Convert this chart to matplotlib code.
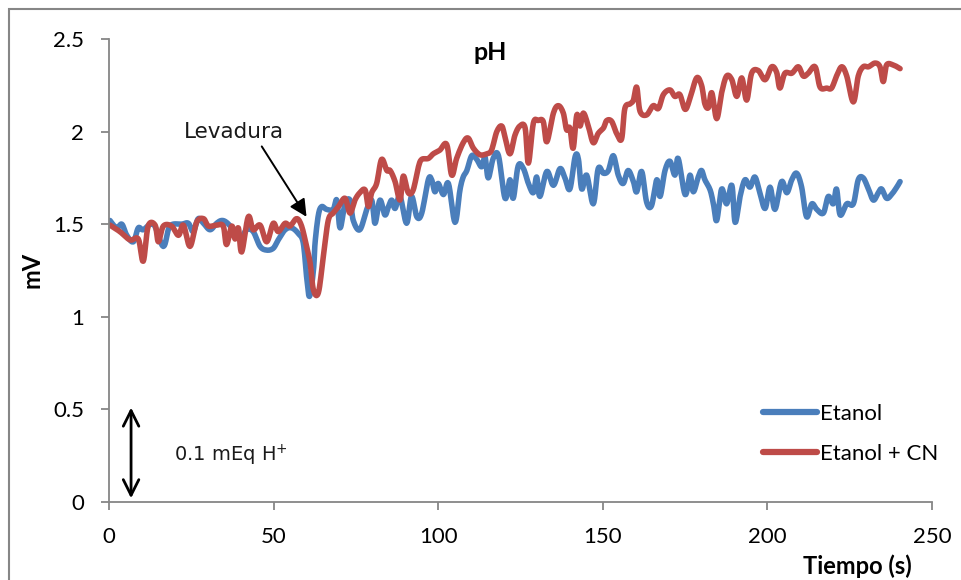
import numpy as np
import matplotlib
matplotlib.use("Agg")
import matplotlib.pyplot as plt
from matplotlib.patches import Rectangle

# --- data (time in s, signal in mV) ---
etanol_t = [0.3, 2.3, 3.9, 5.4, 7.4, 8.9, 10.4, 13.5, 16.5, 18.5, 22.1, 24.1, 25.6,
            27.1, 28.7, 30.7, 32.7, 34.2, 35.7, 37.8, 39.8, 41.8, 43.8, 45.9, 47.9,
            49.9, 51.4, 53.5, 55.5, 57.5, 59.0, 60.0, 60.9, 62.1, 62.6, 63.6, 64.6,
            66.1, 68.1, 69.2, 70.2, 71.7, 73.2, 74.2, 76.2, 78.3, 79.8, 80.8, 82.3,
            83.8, 84.9, 85.9, 86.9, 88.4, 90.4, 91.9, 93.5, 95.0, 97.0, 98.0, 99.0,
            100.0, 101.6, 103.1, 105.1, 106.6, 107.6, 108.7, 110.2, 111.7, 113.2,
            114.2, 115.2, 116.7, 118.3, 120.3, 121.8, 122.8, 124.3, 125.9, 127.4,
            128.9, 129.9, 130.9, 133.0, 135.0, 137.0, 138.5, 140.0, 141.6, 142.6,
            143.6, 145.1, 147.1, 148.6, 150.2, 151.7, 153.2, 154.7, 156.2, 157.7,
            159.3, 160.3, 161.8, 163.3, 164.8, 166.4, 167.4, 168.9, 170.4, 171.9,
            172.9, 175.0, 176.5, 177.5, 179.0, 180.0, 181.0, 182.6, 183.6, 184.6,
            186.1, 187.6, 189.2, 190.2, 191.7, 193.2, 194.7, 196.2, 197.7, 199.3,
            200.8, 202.3, 204.3, 205.9, 207.4, 208.9, 210.4, 211.9, 213.5, 215.0,
            217.0, 218.5, 220.0, 221.0, 222.1, 224.1, 226.1, 227.6, 229.1, 230.7,
            232.2, 233.7, 234.7, 236.2, 237.7, 239.3, 240.3]
etanol_v = [1.52, 1.48, 1.50, 1.44, 1.405, 1.48, 1.47, 1.50, 1.38, 1.49, 1.50, 1.505, 1.46,
            1.53, 1.505, 1.47, 1.505, 1.52, 1.51, 1.47, 1.42, 1.47, 1.46, 1.38, 1.36,
            1.37, 1.415, 1.47, 1.48, 1.45, 1.40, 1.22, 1.11, 1.25, 1.40, 1.55, 1.595,
            1.58, 1.58, 1.63, 1.48, 1.61, 1.63, 1.52, 1.47, 1.58, 1.63, 1.505, 1.63,
            1.55, 1.595, 1.63, 1.585, 1.65, 1.505, 1.65, 1.54, 1.56, 1.74, 1.74, 1.675,
            1.72, 1.66, 1.72, 1.51, 1.685, 1.755, 1.79, 1.87, 1.85, 1.81,
            1.865, 1.75, 1.855, 1.87, 1.64, 1.74, 1.64, 1.815, 1.80, 1.72,
            1.67, 1.755, 1.65, 1.785, 1.71, 1.80, 1.75, 1.69, 1.865, 1.85,
            1.69, 1.765, 1.61, 1.80, 1.775, 1.79, 1.87, 1.765, 1.72, 1.79,
            1.73, 1.675, 1.785, 1.62, 1.60, 1.74, 1.65, 1.79, 1.84, 1.765,
            1.855, 1.66, 1.765, 1.675, 1.755, 1.79, 1.74, 1.685, 1.61, 1.52,
            1.69, 1.61, 1.71, 1.51, 1.65, 1.74, 1.70, 1.755, 1.67, 1.585,
            1.70, 1.58, 1.73, 1.67, 1.74, 1.775, 1.70, 1.54, 1.61, 1.58,
            1.56, 1.65, 1.61, 1.69, 1.55, 1.61, 1.61, 1.74, 1.75, 1.69,
            1.63, 1.67, 1.69, 1.64, 1.66, 1.70, 1.73]

cn_t = [0.3, 3.3, 6.4, 8.9, 10.4, 11.9, 14.0, 15.0, 16.5, 19.0, 21.1, 22.6, 24.6,
        26.6, 28.7, 30.2, 32.7, 34.7, 35.7, 37.3, 38.3, 39.3, 40.3, 42.3, 43.8,
        45.9, 47.9, 49.9, 51.4, 53.5, 55.0, 57.0, 58.5, 60.0, 61.1, 62.1, 63.6,
        65.1, 66.6, 68.1, 69.7, 71.7, 73.2, 74.7, 76.2, 77.8, 78.8, 79.8, 81.3,
        82.8, 84.4, 85.4, 86.9, 88.4, 89.4, 90.9, 92.4, 94.0, 95.0, 97.0, 98.5,
        100.5, 102.6, 104.1, 105.6, 107.6, 109.1, 110.7, 112.7, 114.7, 116.2,
        117.8, 119.3, 120.3, 121.8, 123.3, 124.8, 126.4, 127.4, 128.9, 130.4,
        131.9, 133.0, 135.0, 136.5, 138.0, 139.0, 140.0, 141.0, 142.1, 143.1,
        144.1, 145.6, 147.1, 148.6, 150.2, 151.2, 152.7, 154.2, 155.7, 156.7,
        158.3, 159.3, 160.3, 161.3, 163.3, 165.3, 166.9, 168.4, 170.4, 171.9,
        173.4, 175.0, 176.5, 178.5, 180.0, 181.0, 182.1, 183.1, 184.6, 186.1,
        187.6, 189.2, 190.7, 192.2, 193.7, 195.2, 197.2, 199.3, 201.3, 202.8,
        203.8, 205.3, 207.4, 209.4, 210.9, 212.4, 214.5, 216.0, 218.0, 219.5,
        221.0, 222.6, 224.1, 226.1, 227.6, 229.1, 230.7, 232.7, 234.2, 235.2,
        236.2, 238.2, 240.3]
cn_v = [1.495, 1.46, 1.415, 1.42, 1.30, 1.49, 1.495, 1.405, 1.49, 1.49, 1.44, 1.495, 1.38,
        1.51, 1.53, 1.49, 1.495, 1.49, 1.39, 1.49, 1.42, 1.48, 1.35, 1.54, 1.47,
        1.495, 1.405, 1.505, 1.46, 1.505, 1.49, 1.53, 1.49, 1.38, 1.29, 1.145, 1.13,
        1.325, 1.52, 1.56, 1.595, 1.64, 1.56, 1.63, 1.67, 1.685, 1.595, 1.67, 1.72,
        1.85, 1.79, 1.79, 1.73, 1.63, 1.76, 1.67, 1.685, 1.81, 1.85, 1.855, 1.88,
        1.90, 1.93, 1.765, 1.855, 1.94, 1.965, 1.91, 1.875, 1.88, 1.90,
        2.00, 2.03, 1.97, 1.88, 1.98, 2.03, 2.02, 1.83, 2.045, 2.06,
        2.055, 1.945, 2.10, 2.14, 2.10, 2.01, 2.02, 1.91, 2.09, 2.03,
        2.10, 2.03, 1.94, 1.99, 2.02, 2.06, 2.055, 1.99, 1.96, 2.125,
        2.15, 2.17, 2.24, 2.11, 2.09, 2.14, 2.125, 2.20, 2.225, 2.19,
        2.20, 2.12, 2.18, 2.29, 2.25, 2.15, 2.13, 2.21, 2.07, 2.21,
        2.30, 2.28, 2.19, 2.29, 2.17, 2.315, 2.33, 2.28, 2.35, 2.32,
        2.235, 2.315, 2.315, 2.35, 2.30, 2.315, 2.35, 2.24, 2.235, 2.235,
        2.30, 2.35, 2.30, 2.16, 2.30, 2.35, 2.35, 2.37, 2.35, 2.27,
        2.36, 2.36, 2.34]

series_labels = ["Etanol", "Etanol + CN"]
series_colors = ["#4A7EBB", "#BE4B48"]
xticks = [0, 50, 100, 150, 200, 250]
yticks = [0, 0.5, 1, 1.5, 2, 2.5]
ytick_labels = ["0", "0.5", "1", "1.5", "2", "2.5"]


def smooth(t, v, n=8):
    # Catmull-Rom pass through the points, like a spreadsheet "smoothed line"
    t = np.asarray(t, float); v = np.asarray(v, float)
    pt = np.concatenate([[t[0]], t, [t[-1]]])
    pv = np.concatenate([[v[0]], v, [v[-1]]])
    s = np.linspace(0, 1, n, endpoint=False)
    xs, ys = [], []
    for i in range(1, len(pt) - 2):
        for arr, out in ((pt, xs), (pv, ys)):
            p0, p1, p2, p3 = arr[i - 1], arr[i], arr[i + 1], arr[i + 2]
            out.append(0.5 * (2 * p1 + (-p0 + p2) * s
                              + (2 * p0 - 5 * p1 + 4 * p2 - p3) * s ** 2
                              + (-p0 + 3 * p1 - 3 * p2 + p3) * s ** 3))
    xs.append([t[-1]]); ys.append([v[-1]])
    return np.concatenate(xs), np.concatenate(ys)


W, H = 961, 580
fig = plt.figure(figsize=(W / 100, H / 100), dpi=100)
ax = fig.add_axes([109 / W, 1 - 502 / H, (932 - 109) / W, (502 - 39) / H])

for t, v, lab, col in zip([etanol_t, cn_t], [etanol_v, cn_v], series_labels, series_colors):
    sx, sy = smooth(t, v)
    ax.plot(sx, sy, color=col, lw=4.0, label=lab, solid_joinstyle="round",
            solid_capstyle="round")

ax.set_xlim(0, 250)
ax.set_ylim(0, 2.5)
ax.set_xticks(xticks)
ax.set_yticks(yticks)
ax.set_yticklabels(ytick_labels)
grey = "#868686"
for side in ("top", "right"):
    ax.spines[side].set_visible(False)
for side in ("left", "bottom"):
    ax.spines[side].set_color(grey)
    ax.spines[side].set_linewidth(1.3)
ax.tick_params(axis="both", direction="out", length=6, width=1.3, color=grey,
               labelsize=16, pad=12)
for lbl in ax.get_xticklabels() + ax.get_yticklabels():
    lbl.set_family("Lato")

fig.text(490 / W, 1 - 52 / H, "pH", ha="center", va="center", fontsize=18,
         fontweight="bold", family="Lato")
fig.text(32 / W, 1 - 270 / H, "mV", ha="center", va="center", rotation=90,
         fontsize=17, fontweight="bold", family="Lato")
fig.text(857 / W, 1 - 566 / H, "Tiempo (s)", ha="center", va="center",
         fontsize=17, fontweight="bold", family="Lato")

# annotations
ax.annotate("", xy=(60.0, 1.54), xytext=(46.4, 1.92),
            arrowprops=dict(arrowstyle="-|>", color="black", lw=1.4,
                            mutation_scale=26, shrinkA=0, shrinkB=0))
ax.text(38.0, 2.0, "Levadura", ha="center", va="center", fontsize=15.5,
        family="DejaVu Sans", color="#1a1a1a", fontstretch="expanded")
ax.annotate("", xy=(6.7, 0.02), xytext=(6.7, 0.51),
            arrowprops=dict(arrowstyle="<->", color="black", lw=2,
                            mutation_scale=28, shrinkA=0, shrinkB=0))
ax.text(19.8, 0.25, "0.1 mEq H$^{+}$", ha="left", va="center", fontsize=14,
        family="DejaVu Sans", color="#1a1a1a")

leg = ax.legend(loc="upper left", bbox_to_anchor=((754 - 109) / (932 - 109), 1 - (395 - 39) / (502 - 39)),
                frameon=False, handlelength=2.45, handletextpad=0.1, labelspacing=0.9,
                borderaxespad=0, prop={"family": "Lato", "size": 16})
for line in leg.get_lines():
    line.set_linewidth(4.5)

# chart-area border
fig.patches.append(Rectangle((9 / W, -0.1), 1.5, 1.1 - 9 / H, transform=fig.transFigure,
                             fill=False, edgecolor=grey, lw=1.5, figure=fig))

fig.savefig("out.png", dpi=100)
